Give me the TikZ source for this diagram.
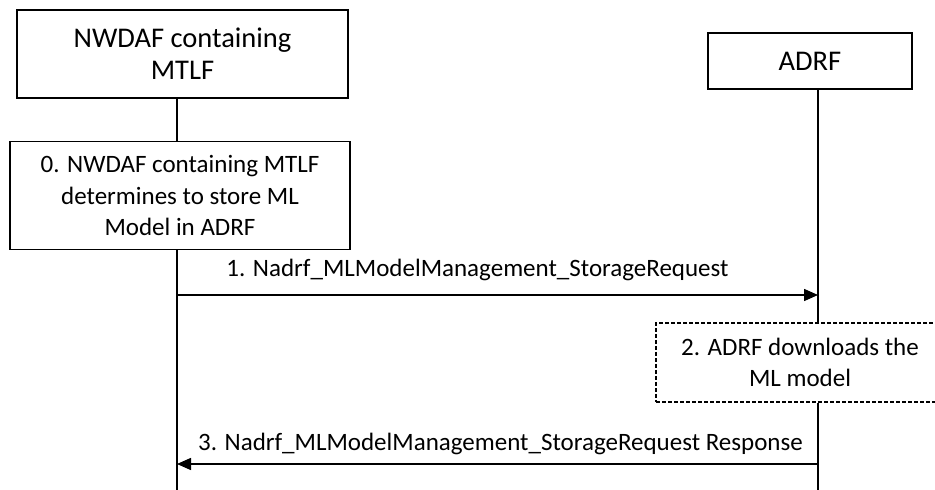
\documentclass[tikz,border=0pt]{standalone}
\usepackage{fontspec}
\setmainfont{Carlito}
\usetikzlibrary{arrows.meta,positioning}
\tikzset{
  box/.style={draw,line width=1.6pt,align=center,inner sep=2pt,font=\fontsize{25}{31.5}\selectfont},
  hbox/.style={box,font=\fontsize{28.5}{32}\selectfont},
  dbox/.style={box,line width=1.4pt,dash pattern=on 4pt off 2pt},
  life/.style={line width=1.5pt},
  ar/.style={-{Triangle[length=14pt,width=12pt]},line width=1.5pt},
  lbl/.style={font=\fontsize{25}{30}\selectfont,anchor=base},
}

\begin{document}
\begin{tikzpicture}[x=1pt,y=1pt]
  \useasboundingbox (0,0) rectangle (935,490);
  \node[hbox, minimum width=331pt, minimum height=88pt] (nwdaf) at (182.5,436) {NWDAF containing\\MTLF};
  \node[box, minimum width=340pt, minimum height=108pt, below=42pt of nwdaf.south, anchor=north, xshift=-2.5pt] (s0) {0. NWDAF containing MTLF\\determines to store ML\\Model in ADRF};
  \node[hbox, minimum width=204pt, minimum height=56pt] (adrf) at (810,429) {ADRF};
  \node[dbox, minimum width=288pt, minimum height=79pt] (s2) at (800,127.5) {2. ADRF downloads the\\ML model};
  % lifelines
  \coordinate (nend) at (177,0);
  \coordinate (aend) at (818,0);
  \coordinate (m1n) at (177,195);
  \coordinate (m1a) at (818,195);
  \coordinate (m3n) at (177,26);
  \coordinate (m3a) at (818,26);
  \draw[life] (nwdaf.south -| nend) -- (s0.north -| nend);
  \draw[life] (s0.south -| nend) -- (nend);
  \draw[life] (adrf.south -| aend) -- (s2.north -| aend);
  \draw[life] (s2.south -| aend) -- (aend);
  % messages
  \draw[ar] (m1n) -- node[lbl, yshift=18pt, xshift=-20pt]{1. Nadrf\_MLModelManagement\_StorageRequest} (m1a);
  \draw[ar] (m3a) -- node[lbl, yshift=13pt, xshift=3pt]{3. Nadrf\_MLModelManagement\_StorageRequest Response} (m3n);
\end{tikzpicture}
\end{document}
